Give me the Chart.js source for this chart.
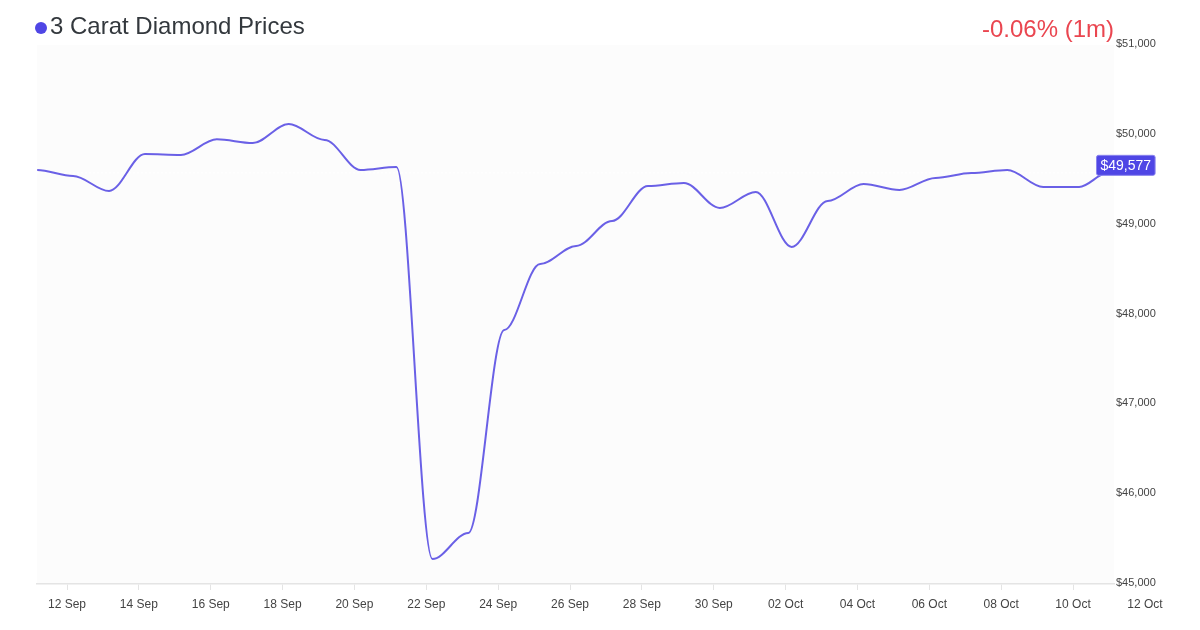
<!DOCTYPE html>
<html>
<head>
<meta charset="utf-8">
<script src="https://cdn.jsdelivr.net/npm/chart.js@4.4.1/dist/chart.umd.min.js"></script>
<style>
  html, body { margin: 0; padding: 0; background: #ffffff; }
  body { width: 1200px; height: 630px; position: relative; overflow: hidden; font-family: "Liberation Sans", Arial, sans-serif; }
  #title { position: absolute; left: 35px; top: 12px; font-size: 24px; color: #33383d; display: flex; align-items: center; white-space: nowrap; }
  #title .dot { width: 12px; height: 12px; border-radius: 50%; background: #4f46e5; display: inline-block; margin-right: 3px; margin-top: 4px; }
  #change { position: absolute; right: 86px; top: 15px; font-size: 24px; color: #ea4650; white-space: nowrap; }
  #wrap { position: absolute; left: 0; top: 0; width: 1200px; height: 630px; }
</style>
</head>
<body>
<div id="wrap"><canvas id="c" width="1200" height="630"></canvas></div>
<div id="title"><span class="dot"></span>3 Carat Diamond Prices</div>
<div id="change">-0.06% (1m)</div>
<script>
// Days since 12 Sep (00:00)
const days = [-0.83, 0.17, 1.17, 2.17, 3.17, 4.17, 5.17, 6.17, 7.17, 8.17, 9.17, 10.17, 11.17, 12.17, 13.17, 14.17, 15.17, 16.17, 17.17, 18.17, 19.17, 20.17, 21.17, 22.17, 23.17, 24.17, 25.17, 26.17, 27.17, 28.17, 28.97];
const prices = [49609, 49542, 49375, 49787, 49776, 49950, 49909, 50120, 49943, 49609, 49642, 45278, 45568, 47828, 48562, 48763, 49041, 49430, 49464, 49186, 49364, 48752, 49264, 49453, 49386, 49520, 49575, 49609, 49420, 49420, 49577];
const tickDays = [0, 2, 4, 6, 8, 10, 12, 14, 16, 18, 20, 22, 24, 26, 28, 30];
const tickLabels = ["12 Sep", "14 Sep", "16 Sep", "18 Sep", "20 Sep", "22 Sep", "24 Sep", "26 Sep", "28 Sep", "30 Sep", "02 Oct", "04 Oct", "06 Oct", "08 Oct", "10 Oct", "12 Oct"];
const yTicks = [45000, 46000, 47000, 48000, 49000, 50000, 51000];
const lastPrice = prices[prices.length - 1];
const xMin = -0.835, xMax = 29.14;

const points = days.map((d, i) => ({ x: d, y: prices[i] }));
const refLine = [{ x: xMin, y: lastPrice }, { x: xMax, y: lastPrice }];

const bgPlugin = {
  id: 'bg',
  beforeDraw(chart) {
    const { ctx, chartArea: a } = chart;
    ctx.save();
    ctx.fillStyle = '#fcfcfc';
    ctx.fillRect(a.left, a.top, a.right - a.left, a.bottom - a.top);
    ctx.restore();
  }
};

// horizontal-tangent bezier curve through the library's own point positions
const HANDLE = 0.34;
const bumpPlugin = {
  id: 'bump',
  beforeDatasetsDraw(chart) {
    const meta = chart.getDatasetMeta(0);
    const pts = meta.data;
    for (let i = 0; i < pts.length; i++) {
      const p = pts[i];
      const prev = pts[i - 1] || p;
      const next = pts[i + 1] || p;
      p.cp1x = p.x - (p.x - prev.x) * HANDLE; p.cp1y = p.y;
      p.cp2x = p.x + (next.x - p.x) * HANDLE; p.cp2y = p.y;
    }
    meta.dataset._pointsUpdated = true;
  }
};

const lastLabelPlugin = {
  id: 'lastLabel',
  afterDraw(chart) {
    const { ctx, chartArea: a, scales } = chart;
    const y = scales.y.getPixelForValue(lastPrice) - 8;
    const text = '$' + lastPrice.toLocaleString('en-US');
    ctx.save();
    ctx.font = '14px "Liberation Sans", Arial, sans-serif';
    const w = ctx.measureText(text).width + 8;
    const h = 20;
    const left = a.right - 18;
    ctx.fillStyle = '#4f46e5';
    ctx.strokeStyle = '#8a84ee';
    ctx.lineWidth = 1;
    ctx.beginPath();
    ctx.roundRect(left + 0.5, y - h / 2 + 0.5, w, h, 2);
    ctx.fill();
    ctx.stroke();
    ctx.fillStyle = '#ffffff';
    ctx.textBaseline = 'middle';
    ctx.textAlign = 'left';
    ctx.fillText(text, left + 4.5, y + 1);
    ctx.restore();
  }
};

new Chart(document.getElementById('c'), {
  type: 'line',
  data: {
    datasets: [
      {
        data: points,
        borderColor: '#6a60e6',
        borderWidth: 2,
        pointRadius: 0,
        tension: 0.4,
        fill: false
      },
      {
        data: refLine,
        borderColor: 'rgba(255,255,255,0.85)',
        borderWidth: 1,
        borderDash: [2, 2],
        pointRadius: 0,
        fill: false
      }
    ]
  },
  options: {
    responsive: false,
    animation: false,
    events: [],
    layout: { padding: { left: 37, top: 45, right: 0, bottom: 0 } },
    plugins: { legend: { display: false }, tooltip: { enabled: false } },
    scales: {
      x: {
        type: 'linear',
        min: xMin,
        max: xMax,
        afterBuildTicks(s) { s.ticks = tickDays.map(v => ({ value: v })); },
        afterFit(s) { s.height = 46; },
        grid: {
          drawOnChartArea: false,
          drawTicks: true,
          tickLength: 6,
          color: (c) => (c.tick && c.tick.value > xMax) ? 'rgba(0,0,0,0)' : '#e4e4e4'
        },
        border: { display: true, color: '#e4e4e4', width: 1.5 },
        ticks: {
          autoSkip: false,
          maxRotation: 0,
          padding: 7,
          color: '#444',
          font: { family: '"Liberation Sans", Arial, sans-serif', size: 12 },
          callback: (v) => {
            const i = tickDays.indexOf(v);
            return i >= 0 ? tickLabels[i] : '';
          }
        }
      },
      y: {
        position: 'right',
        min: 45000,
        max: 51000,
        afterBuildTicks(s) { s.ticks = yTicks.map(v => ({ value: v })); },
        afterFit(s) { s.width = 86; },
        grid: { display: false, drawTicks: false },
        border: { display: false },
        ticks: {
          padding: 2,
          labelOffset: -1,
          color: '#444',
          font: { family: '"Liberation Sans", Arial, sans-serif', size: 11 },
          callback: (v) => '$' + Number(v).toLocaleString('en-US')
        }
      }
    }
  },
  plugins: [bgPlugin, bumpPlugin, lastLabelPlugin]
});
</script>
</body>
</html>
